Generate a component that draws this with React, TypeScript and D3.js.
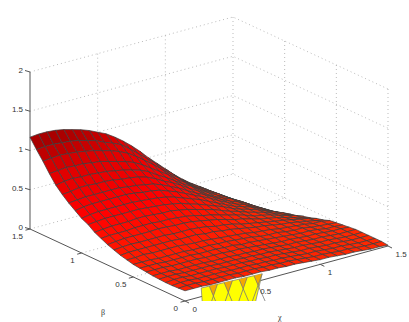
import React from 'react';
import * as d3 from 'd3';

// chi / beta axes, mesh spacing 0.0625
const chiTicks = [0, 0.5, 1, 1.5];
const betaTicks = [0, 0.5, 1, 1.5];
const zTicks = [0, 0.5, 1, 1.5, 2];
const meshStep = 0.0625;

// z, one row per beta (0 -> 1.5), one column per chi (0 -> 1.5)
const surfaceZ: number[][] = [
  [.13,.13,.13,.12,.12,.12,.12,.11,.11,.11,.10,.10,.09,.09,.08,.07,.06,.06,.05,.04,.04,.03,.02,.02,.01],
  [.125,.13,.13,.12,.12,.12,.12,.11,.11,.11,.10,.10,.09,.09,.08,.07,.06,.06,.05,.04,.04,.03,.02,.02,.02],
  [.12,.13,.13,.12,.12,.12,.12,.11,.11,.11,.10,.10,.09,.09,.08,.07,.06,.06,.05,.04,.04,.03,.02,.02,.02],
  [.12,.13,.13,.12,.12,.12,.12,.11,.11,.11,.10,.10,.09,.09,.08,.07,.06,.06,.05,.04,.04,.03,.02,.02,.02],
  [.125,.13,.13,.12,.12,.12,.12,.11,.11,.11,.10,.10,.09,.09,.08,.07,.06,.06,.05,.04,.04,.03,.02,.02,.02],
  [.13,.13,.13,.12,.12,.12,.12,.11,.11,.11,.10,.10,.09,.09,.08,.07,.06,.06,.05,.04,.04,.03,.02,.02,.02],
  [.14,.14,.14,.13,.13,.13,.13,.12,.12,.12,.11,.11,.10,.09,.08,.07,.06,.06,.05,.04,.04,.03,.02,.02,.01],
  [.15,.15,.15,.14,.14,.14,.14,.13,.13,.13,.12,.12,.10,.10,.09,.08,.07,.06,.05,.04,.04,.03,.01,.01,0],
  [.16,.16,.16,.15,.15,.15,.15,.14,.14,.14,.13,.13,.12,.11,.10,.08,.07,.07,.05,.04,.04,.02,.01,0,-.01],
  [.18,.18,.19,.18,.18,.18,.18,.17,.16,.16,.15,.14,.13,.12,.11,.09,.08,.07,.05,.04,.03,.02,0,0,-.02],
  [.20,.21,.21,.21,.21,.21,.21,.20,.20,.20,.18,.18,.16,.15,.13,.11,.09,.08,.06,.04,.03,.01,-.01,-.03,-.05],
  [.23,.24,.245,.24,.24,.24,.24,.23,.23,.23,.22,.205,.18,.17,.15,.12,.10,.08,.06,.04,.025,0,-.02,-.04,-.07],
  [.26,.27,.28,.28,.28,.28,.285,.28,.27,.27,.26,.24,.22,.20,.17,.14,.12,.09,.06,.04,.02,-.01,-.04,-.07,-.10],
  [.30,.31,.31,.31,.32,.32,.32,.31,.31,.30,.29,.27,.24,.22,.19,.16,.13,.10,.06,.04,.015,-.02,-.05,-.08,-.12],
  [.34,.35,.36,.36,.36,.37,.37,.36,.35,.35,.33,.31,.28,.25,.22,.18,.14,.11,.07,.04,.01,-.03,-.07,-.11,-.15],
  [.40,.41,.42,.42,.42,.42,.42,.41,.40,.39,.37,.35,.31,.28,.24,.20,.16,.11,.07,.04,.005,-.04,-.08,-.12,-.17],
  [.44,.46,.47,.47,.47,.47,.47,.46,.45,.44,.42,.39,.35,.31,.27,.22,.17,.12,.07,.035,0,-.05,-.10,-.15,-.20],
  [.50,.52,.53,.53,.53,.53,.53,.52,.50,.49,.47,.43,.39,.34,.29,.24,.19,.13,.08,.03,-.005,-.06,-.11,-.17,-.22],
  [.56,.57,.58,.58,.58,.58,.58,.56,.55,.53,.51,.47,.42,.37,.31,.25,.20,.14,.08,.03,-.01,-.06,-.12,-.18,-.24],
  [.63,.64,.66,.66,.65,.65,.64,.62,.61,.59,.56,.51,.45,.40,.34,.27,.21,.14,.08,.03,-.01,-.07,-.13,-.20,-.26],
  [.71,.73,.74,.73,.73,.72,.71,.69,.67,.64,.61,.56,.49,.43,.36,.29,.23,.15,.09,.03,-.02,-.08,-.14,-.21,-.28],
  [.82,.83,.84,.83,.83,.81,.80,.77,.74,.71,.67,.61,.54,.47,.40,.31,.24,.16,.09,.03,-.02,-.09,-.16,-.23,-.30],
  [.94,.95,.96,.95,.94,.92,.90,.87,.84,.80,.75,.68,.60,.52,.43,.34,.26,.17,.09,.03,-.03,-.10,-.17,-.25,-.33],
  [1.05,1.06,1.06,1.05,1.04,1.02,.99,.96,.91,.87,.82,.74,.65,.56,.47,.37,.28,.18,.10,.03,-.035,-.11,-.19,-.27,-.35],
  [1.17,1.18,1.18,1.17,1.15,1.12,1.09,1.05,1.00,.95,.88,.80,.71,.61,.50,.40,.30,.20,.11,.03,-.04,-.12,-.20,-.29,-.37],
];

// the yellow sheet showing under the front edge
const wallChi = [0.21, 0.32, 0.43, 0.54];
const wallEdges = [0.12, 0.57];
const wallTopZ = 0.11;
const wallBottomZ = -0.4;

const chiX = d3.scaleLinear().domain([0, 1.5]).range([0, 203]);
const chiY = d3.scaleLinear().domain([0, 1.5]).range([0, -55]);
const betaX = d3.scaleLinear().domain([0, 1.5]).range([0, -155]);
const betaY = d3.scaleLinear().domain([0, 1.5]).range([0, -72]);
const zY = d3.scaleLinear().domain([0, 2]).range([0, -157]);
const originX = 185;
const originY = 301;

const project = (chi: number, beta: number, z: number): [number, number] => [
  originX + chiX(chi) + betaX(beta),
  originY + chiY(chi) + betaY(beta) + zY(z),
];

const color = d3
  .scaleLinear<string>()
  .domain([-0.4, 0.1, 0.45, 0.85, 1.2])
  .range(['#ff4000', '#ff2200', '#ff0000', '#dc0000', '#980000'])
  .clamp(true);

const line = d3.line();
const poly = (pts: [number, number][]) => line(pts) + 'Z';

const gridStyle = { stroke: '#aaa', strokeWidth: 0.8, strokeDasharray: '1 3', fill: 'none' };
const axisStyle = { stroke: '#555', strokeWidth: 1, fill: 'none' };
const labelStyle = { fontFamily: '"Liberation Sans", Arial, sans-serif', fontSize: 8, fill: '#333' };

const App = () => {
  const cells: { d: string; fill: string }[] = [];
  // painter's order, far corner first
  for (let i = surfaceZ.length - 2; i >= 0; i--) {
    for (let j = surfaceZ[i].length - 2; j >= 0; j--) {
      const z00 = surfaceZ[i][j];
      const z01 = surfaceZ[i][j + 1];
      const z10 = surfaceZ[i + 1][j];
      const z11 = surfaceZ[i + 1][j + 1];
      const b0 = i * meshStep;
      const b1 = (i + 1) * meshStep;
      const c0 = j * meshStep;
      const c1 = (j + 1) * meshStep;
      cells.push({
        d: poly([project(c0, b0, z00), project(c1, b0, z01), project(c1, b1, z11), project(c0, b1, z10)]),
        fill: color((z00 + z01 + z10 + z11) / 4),
      });
    }
  }

  return (
    <svg width={409} height={322} style={{ position: 'absolute', left: 0, top: 0 }}>
      <defs>
        <clipPath id="wall-clip">
          <rect x={0} y={0} width={409} height={301} />
        </clipPath>
      </defs>

      {/* back walls and floor grid */}
      <g {...gridStyle}>
        {zTicks.map((z) => (
          <path
            key={'z' + z}
            d={line([project(0, 1.5, z), project(1.5, 1.5, z), project(1.5, 0, z)]) as string}
          />
        ))}
        {chiTicks.slice(1).map((c) => (
          <path key={'c' + c} d={line([project(c, 1.5, 0), project(c, 1.5, 2)]) as string} />
        ))}
        {betaTicks.slice(0, 3).map((b) => (
          <path key={'b' + b} d={line([project(1.5, b, 0), project(1.5, b, 2)]) as string} />
        ))}
        {chiTicks.slice(1, 3).map((c) => (
          <path key={'fc' + c} d={line([project(c, 0, 0), project(c, 1.5, 0)]) as string} />
        ))}
        {betaTicks.slice(1, 3).map((b) => (
          <path key={'fb' + b} d={line([project(0, b, 0), project(1.5, b, 0)]) as string} />
        ))}
      </g>

      {/* axes */}
      <g {...axisStyle}>
        <path d={line([project(0, 1.5, 2), project(0, 1.5, 0), project(0, 0, 0), project(1.5, 0, 0)]) as string} />
        {zTicks.map((z) => {
          const [x, y] = project(0, 1.5, z);
          return <path key={z} d={line([[x, y], [x - 5, y - 1.5]]) as string} />;
        })}
        {betaTicks.map((b) => {
          const [x, y] = project(0, b, 0);
          return <path key={b} d={line([[x, y], [x - 4.5, y + 1.2]]) as string} />;
        })}
        {chiTicks.map((c) => {
          const [x, y] = project(c, 0, 0);
          return <path key={c} d={line([[x, y], [x + 4, y + 2]]) as string} />;
        })}
      </g>

      {/* yellow sheet */}
      <g clipPath="url(#wall-clip)">
        <path
          d={poly([
            project(wallEdges[0], 0, wallTopZ),
            project(wallEdges[1], 0, wallTopZ - 0.03),
            project(wallEdges[1] - 0.07, 0, wallBottomZ),
            project(wallEdges[0] + 0.02, 0, wallBottomZ),
          ])}
          fill="#ffff00"
          stroke="#777"
          strokeWidth={0.7}
        />
        {wallChi.map((c) => {
          const t = wallTopZ - (c - 0.12) * 0.07;
          return (
            <g key={c}>
              <path
                d={poly([project(c - 0.03, 0, t), project(c + 0.03, 0, t), project(c, 0, t - 0.14)])}
                fill="#f5a800"
              />
              <path
                d={line([project(c - 0.03, 0, t), project(c + 0.08, 0, wallBottomZ)]) as string}
                stroke="#777"
                strokeWidth={0.8}
                fill="none"
              />
              <path
                d={line([project(c + 0.03, 0, t), project(c - 0.08, 0, wallBottomZ)]) as string}
                stroke="#777"
                strokeWidth={0.8}
                fill="none"
              />
            </g>
          );
        })}
      </g>

      {/* surface */}
      <g stroke="#3c3c3c" strokeWidth={0.72} strokeLinejoin="round">
        {cells.map((c, i) => (
          <path key={i} d={c.d} fill={c.fill} />
        ))}
      </g>

      {/* tick labels */}
      <g {...labelStyle}>
        <g textAnchor="end">
          {zTicks.map((z) => {
            const [, y] = project(0, 1.5, z);
            return (
              <text key={z} x={23} y={y + 1}>
                {z}
              </text>
            );
          })}
          {betaTicks.map((b) => {
            const [x, y] = project(0, b, 0);
            return (
              <text key={b} x={x - 7} y={y + 10}>
                {b}
              </text>
            );
          })}
        </g>
        {chiTicks.map((c) => {
          const [x, y] = project(c, 0, 0);
          return (
            <text key={c} x={x + 7.5} y={y + 11}>
              {c}
            </text>
          );
        })}
      </g>
      <g fontFamily='"Liberation Serif", serif' fontSize={8} fill="#333">
        <text x={101} y={315}>β</text>
        <text x={278} y={320}>χ</text>
      </g>
    </svg>
  );
};

export default App;
